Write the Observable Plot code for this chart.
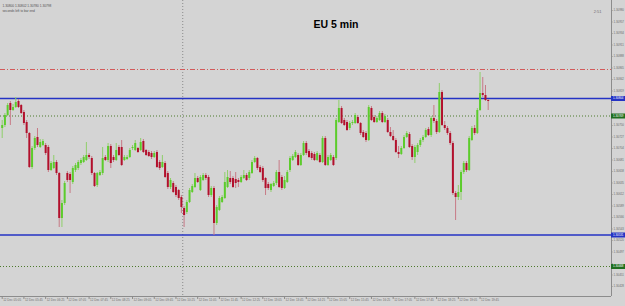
<!DOCTYPE html>
<html><head><meta charset="utf-8">
<script src="https://cdn.jsdelivr.net/npm/d3@7"></script>
<script src="https://cdn.jsdelivr.net/npm/@observablehq/plot@0.6"></script>
<style>
html,body{margin:0;padding:0;background:#d4d4d4;}
#chart svg{display:block;font-family:"Liberation Sans",Arial,sans-serif;}
</style></head><body><div id="chart"></div>
<script>
// EURUSD M5 OHLC
const open = [1.30744,1.30750,1.30770,1.30794,1.30780,1.30786,1.30798,1.30790,1.30776,1.30756,
1.30734,1.30666,1.30704,1.30726,1.30706,1.30710,1.30710,1.30706,1.30660,1.30664,
1.30676,1.30654,1.30564,1.30594,1.30654,1.30652,1.30636,1.30660,1.30664,1.30674,
1.30676,1.30680,1.30690,1.30684,1.30654,1.30630,1.30650,1.30654,1.30686,1.30680,
1.30708,1.30686,1.30680,1.30706,1.30706,1.30680,1.30682,1.30686,1.30704,1.30700,
1.30704,1.30700,1.30718,1.30700,1.30696,1.30694,1.30686,1.30696,1.30676,1.30666,
1.30674,1.30654,1.30626,1.30634,1.30626,1.30620,1.30606,1.30584,1.30576,1.30596,
1.30616,1.30626,1.30644,1.30620,1.30640,1.30650,1.30646,1.30610,1.30624,1.30554,
1.30580,1.30596,1.30604,1.30626,1.30644,1.30644,1.30642,1.30640,1.30636,1.30644,
1.30650,1.30644,1.30654,1.30676,1.30684,1.30666,1.30664,1.30644,1.30632,1.30620,
1.30628,1.30634,1.30656,1.30646,1.30624,1.30636,1.30660,1.30680,1.30686,1.30690,
1.30670,1.30690,1.30714,1.30698,1.30694,1.30692,1.30680,1.30690,1.30676,1.30724,
1.30670,1.30680,1.30686,1.30684,1.30756,1.30784,1.30760,1.30756,1.30744,1.30754,
1.30754,1.30766,1.30754,1.30736,1.30734,1.30720,1.30784,1.30766,1.30756,1.30760,
1.30774,1.30756,1.30760,1.30736,1.30728,1.30720,1.30696,1.30692,1.30704,1.30726,
1.30732,1.30708,1.30686,1.30696,1.30710,1.30720,1.30726,1.30742,1.30730,1.30764,
1.30758,1.30736,1.30816,1.30750,1.30744,1.30734,1.30714,1.30614,1.30606,1.30616,
1.30656,1.30674,1.30660,1.30720,1.30744,1.30734,1.30780,1.30814,1.30810,1.30800];
const high = [1.30760,1.30774,1.30794,1.30798,1.30792,1.30806,1.30802,1.30792,1.30780,1.30760,
1.30736,1.30708,1.30728,1.30744,1.30722,1.30722,1.30714,1.30710,1.30678,1.30690,
1.30680,1.30656,1.30600,1.30638,1.30658,1.30656,1.30668,1.30674,1.30680,1.30684,
1.30690,1.30716,1.30694,1.30688,1.30656,1.30656,1.30660,1.30706,1.30690,1.30714,
1.30712,1.30690,1.30714,1.30710,1.30720,1.30690,1.30690,1.30704,1.30710,1.30720,
1.30706,1.30724,1.30722,1.30702,1.30700,1.30698,1.30698,1.30700,1.30680,1.30690,
1.30678,1.30658,1.30644,1.30638,1.30630,1.30622,1.30610,1.30588,1.30600,1.30624,
1.30632,1.30654,1.30648,1.30650,1.30654,1.30654,1.30650,1.30628,1.30628,1.30590,
1.30608,1.30610,1.30656,1.30660,1.30658,1.30648,1.30656,1.30644,1.30650,1.30660,
1.30654,1.30660,1.30680,1.30688,1.30686,1.30670,1.30668,1.30646,1.30636,1.30634,
1.30638,1.30660,1.30680,1.30650,1.30648,1.30660,1.30688,1.30692,1.30700,1.30694,
1.30694,1.30718,1.30718,1.30702,1.30698,1.30696,1.30698,1.30694,1.30728,1.30728,
1.30690,1.30694,1.30690,1.30764,1.30800,1.30788,1.30764,1.30760,1.30758,1.30760,
1.30774,1.30770,1.30756,1.30740,1.30738,1.30790,1.30788,1.30770,1.30768,1.30778,
1.30778,1.30772,1.30764,1.30746,1.30740,1.30724,1.30708,1.30708,1.30730,1.30738,
1.30736,1.30712,1.30710,1.30714,1.30724,1.30730,1.30744,1.30746,1.30768,1.30790,
1.30762,1.30834,1.30820,1.30758,1.30748,1.30738,1.30718,1.30618,1.30630,1.30660,
1.30678,1.30678,1.30728,1.30748,1.30750,1.30784,1.30856,1.30846,1.30830,1.30802];
const low = [1.30724,1.30746,1.30768,1.30750,1.30778,1.30784,1.30784,1.30772,1.30750,1.30724,
1.30664,1.30662,1.30700,1.30706,1.30704,1.30708,1.30690,1.30656,1.30658,1.30662,
1.30650,1.30546,1.30546,1.30590,1.30636,1.30614,1.30632,1.30656,1.30660,1.30670,
1.30674,1.30678,1.30682,1.30650,1.30626,1.30626,1.30648,1.30650,1.30678,1.30676,
1.30664,1.30676,1.30678,1.30688,1.30668,1.30678,1.30680,1.30684,1.30700,1.30698,
1.30694,1.30698,1.30694,1.30688,1.30686,1.30682,1.30684,1.30664,1.30660,1.30664,
1.30644,1.30622,1.30622,1.30614,1.30606,1.30600,1.30574,1.30546,1.30572,1.30594,
1.30614,1.30624,1.30634,1.30618,1.30638,1.30640,1.30606,1.30606,1.30530,1.30550,
1.30578,1.30594,1.30602,1.30624,1.30632,1.30624,1.30624,1.30626,1.30634,1.30642,
1.30638,1.30640,1.30652,1.30674,1.30660,1.30654,1.30636,1.30610,1.30620,1.30616,
1.30626,1.30630,1.30624,1.30620,1.30622,1.30634,1.30656,1.30678,1.30684,1.30668,
1.30668,1.30688,1.30690,1.30684,1.30680,1.30678,1.30678,1.30674,1.30674,1.30668,
1.30668,1.30678,1.30668,1.30680,1.30754,1.30752,1.30748,1.30738,1.30740,1.30750,
1.30752,1.30752,1.30730,1.30724,1.30716,1.30718,1.30758,1.30754,1.30754,1.30758,
1.30754,1.30754,1.30734,1.30726,1.30718,1.30694,1.30684,1.30690,1.30702,1.30724,
1.30704,1.30680,1.30674,1.30690,1.30706,1.30716,1.30724,1.30728,1.30726,1.30754,
1.30732,1.30734,1.30748,1.30740,1.30730,1.30710,1.30610,1.30560,1.30600,1.30600,
1.30652,1.30656,1.30658,1.30718,1.30730,1.30732,1.30778,1.30806,1.30798,1.30780];
const close = [1.30750,1.30770,1.30790,1.30780,1.30786,1.30796,1.30786,1.30774,1.30754,1.30734,
1.30666,1.30704,1.30724,1.30710,1.30716,1.30718,1.30694,1.30660,1.30674,1.30676,
1.30654,1.30564,1.30594,1.30634,1.30640,1.30640,1.30664,1.30670,1.30676,1.30680,
1.30686,1.30690,1.30686,1.30654,1.30628,1.30654,1.30656,1.30684,1.30680,1.30708,
1.30674,1.30680,1.30700,1.30690,1.30670,1.30686,1.30686,1.30700,1.30706,1.30714,
1.30696,1.30716,1.30696,1.30690,1.30688,1.30686,1.30694,1.30666,1.30664,1.30676,
1.30646,1.30626,1.30640,1.30616,1.30610,1.30604,1.30586,1.30570,1.30596,1.30620,
1.30628,1.30644,1.30636,1.30646,1.30650,1.30644,1.30610,1.30624,1.30554,1.30586,
1.30604,1.30606,1.30636,1.30646,1.30636,1.30626,1.30634,1.30636,1.30646,1.30650,
1.30640,1.30656,1.30676,1.30684,1.30664,1.30656,1.30640,1.30624,1.30624,1.30632,
1.30634,1.30656,1.30626,1.30624,1.30640,1.30656,1.30684,1.30688,1.30696,1.30670,
1.30690,1.30714,1.30694,1.30686,1.30684,1.30680,1.30694,1.30676,1.30724,1.30670,
1.30686,1.30690,1.30670,1.30760,1.30784,1.30754,1.30750,1.30740,1.30754,1.30756,
1.30770,1.30754,1.30734,1.30726,1.30720,1.30786,1.30760,1.30756,1.30764,1.30774,
1.30756,1.30768,1.30736,1.30728,1.30720,1.30696,1.30692,1.30704,1.30726,1.30734,
1.30706,1.30686,1.30706,1.30710,1.30720,1.30726,1.30740,1.30730,1.30764,1.30758,
1.30736,1.30816,1.30750,1.30744,1.30734,1.30714,1.30614,1.30606,1.30616,1.30656,
1.30674,1.30660,1.30724,1.30744,1.30734,1.30780,1.30814,1.30810,1.30800,1.30798];

const timeLabels = ["12 Dec 05:05","12 Dec 05:45","12 Dec 06:25","12 Dec 07:05","12 Dec 07:45","12 Dec 08:25",
"12 Dec 09:05","12 Dec 09:45","12 Dec 10:25","12 Dec 11:05","12 Dec 11:45","12 Dec 12:25","12 Dec 13:05",
"12 Dec 13:45","12 Dec 14:25","12 Dec 15:05","12 Dec 15:45","12 Dec 16:25","12 Dec 17:05","12 Dec 17:45",
"12 Dec 18:25","12 Dec 19:05","12 Dec 19:45"];
const barsPerLabel = 8;
const priceTicks = [1.30980,1.30957,1.30934,1.30911,1.30888,1.30865,1.30842,1.30819,1.30796,1.30773,
1.30750,1.30727,1.30704,1.30681,1.30658,1.30635,1.30612,1.30589,1.30566,1.30543,1.30520,1.30497,
1.30474,1.30451,1.30428];
const dashDotLevels = [1.30862];
const blueLevels = [1.30804, 1.30531];
const greenLevels = [1.30769, 1.30468];
const markerBars = [66.5];
const title = "EU 5 min";
const infoLine1 = "1.30800 1.30802 1.30780 1.30798";
const infoLine2 = "seconds left to bar end";
const timerText = "2:51";

const bars = open.map((o, i) => ({i, open: o, high: high[i], low: low[i], close: close[i]}));
const up = bars.filter(d => d.close >= d.open);
const down = bars.filter(d => d.close < d.open);

const W = 625, H = 306, mR = 14, mB = 10;
const barStep = 2.715, firstX = 1.7;
const xDomain = [-firstX / barStep, (W - mR - firstX) / barStep];
const pricePerPx = 0.00002, topPrice = 1.31000;
const yDomain = [topPrice - (H - mB) * pricePerPx, topPrice];
const boxW = 14 / barStep;
const labelIdx = timeLabels.map((t, k) => k * barsPerLabel);
const boxLevels = blueLevels.concat(greenLevels);
// hide axis labels that sit under a price box
const shownTicks = priceTicks.filter(p => boxLevels.every(b => Math.abs(p - b) > 5.5 * pricePerPx));

const grey = "#6e6e6e";
const chart = Plot.plot({
  width: W, height: H,
  marginLeft: 0, marginRight: mR, marginTop: 0, marginBottom: mB,
  x: {domain: xDomain, axis: null},
  y: {domain: yDomain, axis: null},
  style: {background: "#d4d4d4", fontFamily: "Liberation Sans, Arial, sans-serif"},
  marks: [
    Plot.ruleX(markerBars, {x: d => d, stroke: "#8a8a8a", strokeDasharray: "1,2"}),
    Plot.ruleY(dashDotLevels, {y: d => d, stroke: "#d25a5a", strokeDasharray: "5,2,1,2"}),
    Plot.ruleY(greenLevels, {y: d => d, stroke: "#4d7a2c", strokeDasharray: "1,2"}),
    Plot.ruleY(blueLevels, {y: d => d, stroke: "#2433c4", strokeWidth: 1.5}),
    Plot.ruleX(up, {x: "i", y1: "low", y2: "high", stroke: "#8fcf6a", strokeWidth: 1}),
    Plot.ruleX(down, {x: "i", y1: "low", y2: "high", stroke: "#c77a86", strokeWidth: 1}),
    Plot.ruleX(up, {x: "i", y1: "open", y2: "close", stroke: "#5ccc2c", strokeWidth: 2}),
    Plot.ruleX(down, {x: "i", y1: "open", y2: "close", stroke: "#b2102c", strokeWidth: 2}),
    // frame edges
    Plot.ruleX([xDomain[1]], {stroke: "#8c8c8c"}),
    Plot.ruleY([yDomain[0]], {stroke: "#8c8c8c"}),
    // right price axis
    Plot.ruleY(priceTicks, {y: d => d, x1: xDomain[1], x2: xDomain[1] + 1.5 / barStep, stroke: "#8c8c8c"}),
    Plot.text(shownTicks, {y: d => d, text: d => d.toFixed(5), frameAnchor: "right", textAnchor: "start", dx: 2, fill: grey, fontSize: 2.9}),
    Plot.ruleY(blueLevels, {y: d => d, x1: xDomain[1], x2: xDomain[1] + boxW, stroke: "#2433c4", strokeWidth: 5}),
    Plot.ruleY(greenLevels, {y: d => d, x1: xDomain[1], x2: xDomain[1] + boxW, stroke: "#1f6e1f", strokeWidth: 5}),
    Plot.text(boxLevels, {y: d => d, text: d => d.toFixed(5), frameAnchor: "right", textAnchor: "start", dx: 1.5, fill: "white", fontSize: 2.9}),
    // bottom time axis
    Plot.ruleX(labelIdx, {x: d => d, y1: yDomain[0], y2: yDomain[0] - 3 * pricePerPx, stroke: "#8c8c8c"}),
    Plot.text(timeLabels, {x: (d, k) => labelIdx[k], text: d => d, frameAnchor: "bottom", textAnchor: "start", dx: 1, dy: 4.5, fill: grey, fontSize: 3}),
    // texts
    Plot.text([title], {text: d => d, frameAnchor: "top", dx: 30, dy: 20, fontWeight: "bold", fontSize: 10.5, fill: "black"}),
    Plot.text([infoLine1], {text: d => d, frameAnchor: "top-left", dx: 2, dy: 4, fontSize: 3.2, fill: "#505050"}),
    Plot.text([infoLine2], {text: d => d, frameAnchor: "top-left", dx: 2, dy: 9, fontSize: 3.2, fill: "#505050"}),
    Plot.text([timerText], {text: d => d, frameAnchor: "top-right", dx: -10, dy: 10, fontSize: 4, fill: grey})
  ]
});
document.getElementById("chart").appendChild(chart);
</script></body></html>
